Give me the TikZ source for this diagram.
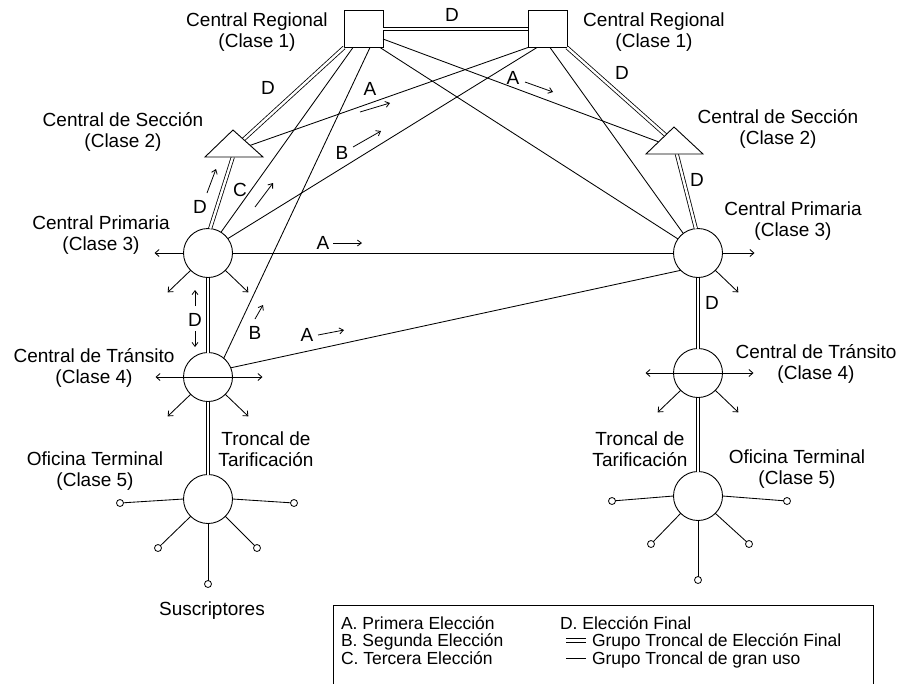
\documentclass[tikz,border=0pt]{standalone}
\usepackage{fontspec}
\setmainfont{Liberation Sans}
\usetikzlibrary{arrows.meta,calc}
\begin{document}
\begin{tikzpicture}[x=1pt,y=-1pt,
  every node/.style={inner sep=0pt, outer sep=0pt},
  lbl/.style={align=center, font=\fontsize{19}{21}\selectfont},
  tag/.style={font=\fontsize{19}{21}\selectfont},
  legtext/.style={anchor=base west, font=\fontsize{17.5}{17}\selectfont},
  office/.style={circle, draw, line width=0.9pt, minimum size=49pt},
  regional/.style={draw, line width=0.9pt, minimum width=39pt, minimum height=37pt},
  sub/.style={circle, draw, line width=0.8pt, minimum size=7pt},
  trunk/.style={line width=0.85pt},
  final/.style={double, double distance=2.4pt, line width=0.8pt},
  stub/.style={line width=0.85pt, -{Straight Barb[length=4pt,width=7pt]}},
  bistub/.style={line width=0.85pt, {Straight Barb[length=4pt,width=7pt]}-{Straight Barb[length=4pt,width=7pt]}},
  dirarrow/.style={line width=0.8pt, -{Straight Barb[length=4pt,width=6pt]}},
]
\useasboundingbox (0,0) rectangle (897,683);

% ---- offices ----
\node[regional] (regA) at (363.5,29) {};
\node[regional] (regB) at (547.5,29) {};
\node[office] (priA) at (208,253) {};
\node[office] (priB) at (698,253) {};
\node[office] (trA) at (208,377) {};
\node[office] (trB) at (698,373) {};
\node[office] (termA) at (208,499) {};
\node[office] (termB) at (698,496) {};

% section centres (triangles), corner points
\coordinate (secA-apex) at (233,130);
\coordinate (secA-right) at (263,157);
\coordinate (secA-left) at (205,157);
\coordinate (secB-apex) at (674,127);
\coordinate (secB-right) at (703,154);
\coordinate (secB-left) at (646,154);
\coordinate (secA-up) at ($(secA-apex)!0.35!(secA-right)$);
\coordinate (secA-cross) at ($(secA-apex)!0.57!(secA-right)$);
\coordinate (secA-base) at ($(secA-left)!0.48!(secA-right)$);
\coordinate (secB-up) at ($(secB-apex)!0.3!(secB-left)$);
\coordinate (secB-cross) at ($(secB-apex)!0.55!(secB-left)$);
\coordinate (secB-base) at ($(secB-left)!0.54!(secB-right)$);

% ---- final-choice trunk groups ----
\draw[final] (regA.east) -- (regB.west);
\draw[final] (regA.south west) -- (secA-up);
\draw[final] (regB.south east) -- (secB-up);
\draw[final] (secA-base) -- (priA.85);
\draw[final] (secB-base) -- (priB.95);
\draw[final] (priA.south) -- (trA.north);
\draw[final] (trA.south) -- (termA.north);
\draw[final] (priB.south) -- (trB.north);
\draw[final] (trB.south) -- (termB.north);

% ---- high-usage trunk groups ----
\draw[trunk] ($(regA.south west)+(9,0)$) -- (priA.58);
\draw[trunk] ($(regA.south west)+(26,0)$) -- (trA.50);
\draw[trunk] ($(regA.east)+(0,10)$) -- (secB-cross);
\draw[trunk] ($(regA.south east)+(-3,0)$) -- (priB.145);
\draw[trunk] (regB.south west) -- (secA-cross);
\draw[trunk] ($(regB.south west)+(9,0)$) -- (priA.36);
\draw[trunk] ($(regB.south west)+(22,0)$) -- (priB.127);
\draw[trunk] (priA.east) -- (priB.west);
\draw[trunk] (trA.22) -- (priB.225);

% ---- section centres ----
\draw[line width=0.9pt, fill=white] (secA-apex) -- (secA-right) -- (secA-left) -- cycle;
\draw[line width=0.9pt, fill=white] (secB-apex) -- (secB-right) -- (secB-left) -- cycle;

% ---- outgoing stubs ----
\draw[stub] (priA.west) -- ++(-29,0);
\draw[stub] (priA.225) -- ++(-23,22);
\draw[stub] (priA.-45) -- ++(23,22);
\draw[stub] (priB.east) -- ++(32,0);
\draw[stub] (priB.-45) -- ++(23,22);
\draw[bistub] ($(trA.west)+(-28,0)$) -- ($(trA.east)+(30,0)$);
\draw[stub] (trA.225) -- ++(-23,22);
\draw[stub] (trA.-45) -- ++(23,22);
\draw[bistub] ($(trB.west)+(-28,0)$) -- ($(trB.east)+(31,0)$);
\draw[stub] (trB.225) -- ++(-23,22);
\draw[stub] (trB.-45) -- ++(23,22);

% ---- subscribers ----
\node[sub] (sA1) at (120,503) {};
\node[sub] (sA2) at (294,503) {};
\node[sub] (sA3) at (158,548) {};
\node[sub] (sA4) at (257,548) {};
\node[sub] (sA5) at (208,584) {};
\node[sub] (sB1) at (612,501) {};
\node[sub] (sB2) at (787,501) {};
\node[sub] (sB3) at (651,544) {};
\node[sub] (sB4) at (749,544) {};
\node[sub] (sB5) at (698,580) {};
\foreach \t in {A,B}{
  \draw[trunk] (term\t.west) -- (s\t1);
  \draw[trunk] (term\t.east) -- (s\t2);
  \draw[trunk] (term\t.225) -- (s\t3);
  \draw[trunk] (term\t.-45) -- (s\t4);
  \draw[trunk] (term\t.south) -- (s\t5);
}

% ---- office labels ----
\node[lbl] (lRegA) at (257,32) {Central Regional\\(Clase 1)};
\node[lbl] (lRegB) at (654,32) {Central Regional\\(Clase 1)};
\node[lbl] (lSecA) at (123,132) {Central de Sección\\(Clase 2)};
\node[lbl] (lSecB) at (778,129) {Central de Sección\\(Clase 2)};
\node[lbl] (lPriA) at (101,235) {Central Primaria\\(Clase 3)};
\node[lbl] (lPriB) at (793,221) {Central Primaria\\(Clase 3)};
\node[lbl] (lTrA) at (94,368) {Central de Tránsito\\(Clase 4)};
\node[lbl] (lTrB) at (816,364) {Central de Tránsito\\(Clase 4)};
\node[lbl] (lTermA) at (95,471) {Oficina Terminal\\(Clase 5)};
\node[lbl] (lTermB) at (797,469) {Oficina Terminal\\(Clase 5)};
\node[lbl] (lTarA) at (266,449) {Troncal de\\Tarificación};
\node[lbl] (lTarB) at (640,449) {Troncal de\\Tarificación};
\node[lbl] (lSub) at (212,611) {Suscriptores};

% ---- route choice tags ----
\node[tag] (dTop) at (452,15) {D};
\node[tag] (dRegA) at (268,88) {D};
\node[tag] (dRegB) at (622,73) {D};
\node[tag] (dSecB) at (697,180) {D};
\node[tag] (dPriB) at (712,303) {D};
\node[tag] (dSecA) at (200,207) {D};
\draw[dirarrow] (207,193) -- (216,169);
\node[tag] (cPriA) at (240,190) {C};
\draw[dirarrow] (255,207) -- (273,183);
\node[tag] (dPriA) at (195,320) {D};
\draw[dirarrow] (195,306) -- (195,290);
\draw[dirarrow] (195,331) -- (195,347);
\node[tag] (bTrA) at (255,333) {B};
\draw[dirarrow] (255,319) -- (263,305);
\node[tag] (aTrA) at (307,335) {A};
\draw[dirarrow] (318,335) -- (344,330);
\node[tag] (aPriA) at (323,243) {A};
\draw[dirarrow] (333,243) -- (362,243);
\node[tag] (aSecA) at (370,89) {A};
\draw[dirarrow] (360,112) -- (390,103);
\node[tag] (bPriA) at (342,153) {B};
\draw[dirarrow] (353,147) -- (381,131);
\node[tag] (aSecB) at (513,78) {A};
\draw[dirarrow] (525,82) -- (553,92);

% ---- legend ----
\draw[line width=0.9pt] (333,605) rectangle (873,700);
\node[legtext] (legA) at (341,629) {A. Primera Elección};
\node[legtext] (legB) at (341,646.5) {B. Segunda Elección};
\node[legtext] (legC) at (341,664) {C. Tercera Elección};
\node[legtext] (legD) at (560,629) {D. Elección Final};
\draw[line width=0.9pt] (566,638.5) -- (586,638.5);
\draw[line width=0.9pt] (566,642) -- (586,642);
\node[legtext] (legF) at (592,646.5) {Grupo Troncal de Elección Final};
\draw[trunk] (566,658) -- (586,658);
\node[legtext] (legG) at (592,664) {Grupo Troncal de gran uso};
\end{tikzpicture}
\end{document}
